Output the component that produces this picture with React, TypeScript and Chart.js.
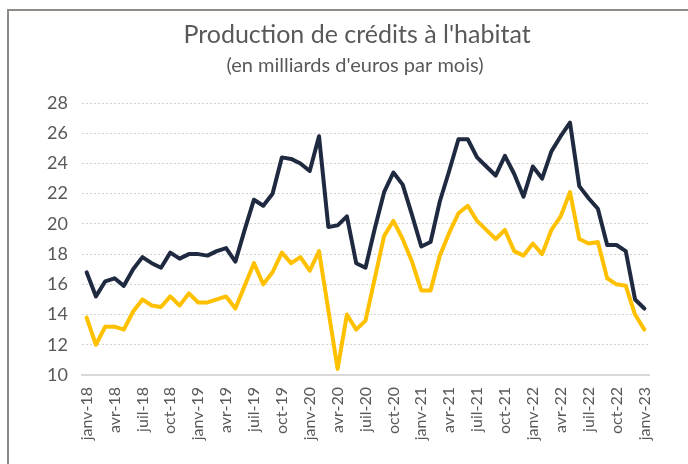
import React, { useEffect, useRef } from "react";
import { Chart, registerables } from "chart.js";

Chart.register(...registerables);

const TITLE = "Production de crédits à l'habitat";
const SUBTITLE = "(en milliards d'euros par mois)";

const monthNames = ["janv", "févr", "mars", "avr", "mai", "juin", "juil", "août", "sept", "oct", "nov", "déc"];
const years = ["18", "19", "20", "21", "22", "23"];
const labels: string[] = [];
for (const y of years) {
  for (const m of monthNames) {
    if (labels.length < 61) labels.push(`${m}-${y}`);
  }
}

const totalSeries = [
  16.8, 15.2, 16.2, 16.4, 15.9, 17.0, 17.8, 17.4, 17.1, 18.1, 17.7, 18.0,
  18.0, 17.9, 18.2, 18.4, 17.5, 19.6, 21.6, 21.2, 22.0, 24.4, 24.3, 24.0,
  23.5, 25.8, 19.8, 19.9, 20.5, 17.4, 17.1, 19.7, 22.1, 23.4, 22.6, 20.6,
  18.5, 18.8, 21.5, 23.5, 25.6, 25.6, 24.4, 23.8, 23.2, 24.5, 23.3, 21.8,
  23.8, 23.0, 24.8, 25.8, 26.7, 22.5, 21.7, 21.0, 18.6, 18.6, 18.2, 15.0,
  14.4,
];

const horsRenegoSeries = [
  13.8, 12.0, 13.2, 13.2, 13.0, 14.2, 15.0, 14.6, 14.5, 15.2, 14.6, 15.4,
  14.8, 14.8, 15.0, 15.2, 14.4, 15.9, 17.4, 16.0, 16.8, 18.1, 17.4, 17.8,
  16.9, 18.2, 14.3, 10.4, 14.0, 13.0, 13.6, 16.4, 19.2, 20.2, 19.0, 17.5,
  15.6, 15.6, 17.9, 19.4, 20.7, 21.2, 20.2, 19.6, 19.0, 19.6, 18.2, 17.9,
  18.7, 18.0, 19.6, 20.5, 22.1, 19.0, 18.7, 18.8, 16.4, 16.0, 15.9, 14.0,
  13.0,
];

const FONT = "Lato, 'Open Sans', sans-serif";
const TEXT_COLOR = "#595959";

const titlePlugin = {
  id: "customTitle",
  afterDraw(chart: any) {
    const ctx = chart.ctx;
    ctx.save();
    ctx.fillStyle = TEXT_COLOR;
    ctx.textAlign = "center";
    ctx.textBaseline = "alphabetic";
    ctx.font = `25px ${FONT}`;
    ctx.fillText(TITLE, 357, 43);
    ctx.font = `20px ${FONT}`;
    ctx.fillText(SUBTITLE, 355, 72);
    ctx.restore();
  },
};

export default function App() {
  const ref = useRef<HTMLCanvasElement | null>(null);

  useEffect(() => {
    if (!ref.current) return;
    const chart = new Chart(ref.current, {
      type: "line",
      data: {
        labels,
        datasets: [
          {
            label: "Production totale",
            data: totalSeries,
            borderColor: "#1f2a40",
            backgroundColor: "#1f2a40",
            borderWidth: 4,
            pointRadius: 0,
            tension: 0,
            borderJoinStyle: "round",
            borderCapStyle: "round",
          },
          {
            label: "Hors renégociations",
            data: horsRenegoSeries,
            borderColor: "#ffc000",
            backgroundColor: "#ffc000",
            borderWidth: 4,
            pointRadius: 0,
            tension: 0,
            borderJoinStyle: "round",
            borderCapStyle: "round",
          },
        ],
      },
      options: {
        animation: false,
        responsive: false,
        maintainAspectRatio: false,
        layout: { padding: { top: 103, right: 39, left: 0, bottom: 0 } },
        plugins: {
          legend: { display: false },
          title: { display: false },
          tooltip: { enabled: false },
        },
        scales: {
          x: {
            type: "category",
            offset: true,
            grid: { display: false, drawTicks: false },
            border: { display: true, color: "#d9d9d9", width: 2 },
            ticks: {
              autoSkip: false,
              minRotation: 90,
              maxRotation: 90,
              padding: 12,
              color: TEXT_COLOR,
              font: { family: FONT, size: 16 },
              callback: (_v: any, i: number) => (i % 3 === 0 ? labels[i] : ""),
            },
            afterFit: (scale: any) => {
              scale.height = 89;
            },
          },
          y: {
            min: 10,
            max: 28,
            grid: { color: "#d2d2d2", lineWidth: 1, drawTicks: false },
            border: { display: false, dash: [2, 2] },
            ticks: {
              stepSize: 2,
              padding: 14,
              color: TEXT_COLOR,
              font: { family: FONT, size: 18 },
            },
            afterFit: (scale: any) => {
              scale.width = 82;
            },
          },
        },
      },
      plugins: [titlePlugin],
    });
    return () => chart.destroy();
  }, []);

  return (
    <div style={{ position: "fixed", left: 0, top: 0, width: 688, height: 464, background: "#fff" }}>
      <div
        style={{
          position: "absolute",
          left: 7,
          top: 9,
          width: 700,
          height: 480,
          borderTop: "2px solid #8f8a86",
          borderLeft: "2px solid #8f8a86",
          boxSizing: "border-box",
        }}
      />
      <canvas ref={ref} width={688} height={464} style={{ position: "absolute", left: 0, top: 0 }} />
    </div>
  );
}
